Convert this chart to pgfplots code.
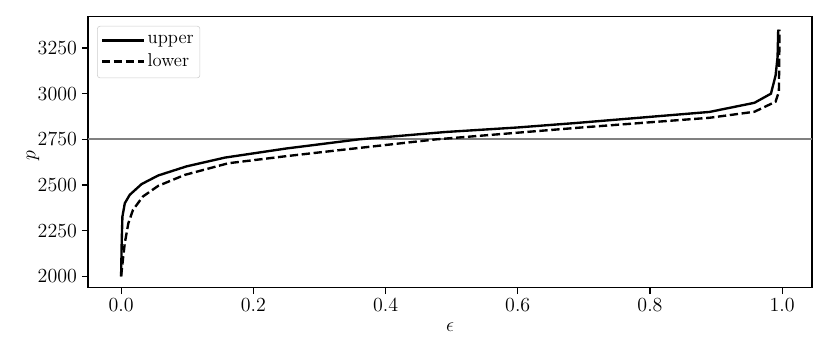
\documentclass[border=0pt]{standalone}
\usepackage{pgfplots}
\pgfplotsset{compat=1.18}
\newcommand{\bigf}{\fontsize{13.4}{15.5}\selectfont}
\begin{document}
\begin{tikzpicture}
\path[use as bounding box] (-63.4pt,-49.0pt) rectangle (534.3pt,207.3pt);
\begin{axis}[
  at={(0,0)}, anchor=south west,
  scale only axis, width=521.3pt, height=195.1pt,
  xmin=-0.05, xmax=1.045, ymin=1937, ymax=3420,
  xtick={0,0.2,0.4,0.6,0.8,1.0},
  ytick={2000,2250,2500,2750,3000,3250},
  xticklabel style={/pgf/number format/.cd, fixed, fixed zerofill, precision=1},
  yticklabel style={/pgf/number format/1000 sep={}},
  tick label style={font=\bigf},
  tick align=outside, tick pos=left,
  major tick length=4.5pt,
  every tick/.style={black, line width=0.8pt},
  axis line style={line width=0.8pt},
  xlabel={$\epsilon$}, ylabel={$p$},
  label style={font=\bigf},
  xlabel style={at={(axis description cs:0.5,-0.144)}, anchor=center},
  ylabel style={at={(axis description cs:-0.076,0.49)}, anchor=center},
  legend style={at={(axis description cs:0.0125,0.967)}, anchor=north west,
    draw=black!20, rounded corners=2pt, fill=white, fill opacity=0.8, text opacity=1,
    font=\bigf, inner xsep=2.5pt, inner ysep=4.5pt, row sep=2pt},
  legend cell align=left,
  legend image code/.code={\draw[#1] (0pt,0pt) -- (24pt,0pt); \path (0pt,0pt) -- (30pt,0pt);},
]
\addplot[gray, line width=1.5pt, forget plot] coordinates {(-0.1,2750) (1.1,2750)};
\addplot[black, line width=1.7pt] coordinates {
(0,2000) (0.001,2200) (0.002,2327) (0.0056,2400) (0.013,2446) (0.031,2505)
(0.056,2552) (0.099,2602) (0.157,2650) (0.25,2700) (0.36,2750) (0.49,2790)
(0.60,2815) (0.69,2840) (0.89,2900) (0.958,2950) (0.983,3000) (0.990,3100)
(0.993,3200) (0.994,3350)};
\addlegendentry{upper}
\addplot[black, line width=1.7pt, dash pattern=on 6pt off 2.6pt] coordinates {
(0.0,2000) (0.003,2100) (0.0056,2182) (0.011,2291) (0.018,2364) (0.033,2437)
(0.056,2495) (0.096,2555) (0.162,2619) (0.25,2658) (0.328,2690) (0.477,2750)
(0.693,2814) (0.89,2868) (0.958,2901) (0.990,2956) (0.995,3011) (0.996,3350)};
\addlegendentry{lower}
\end{axis}
\end{tikzpicture}
\end{document}
